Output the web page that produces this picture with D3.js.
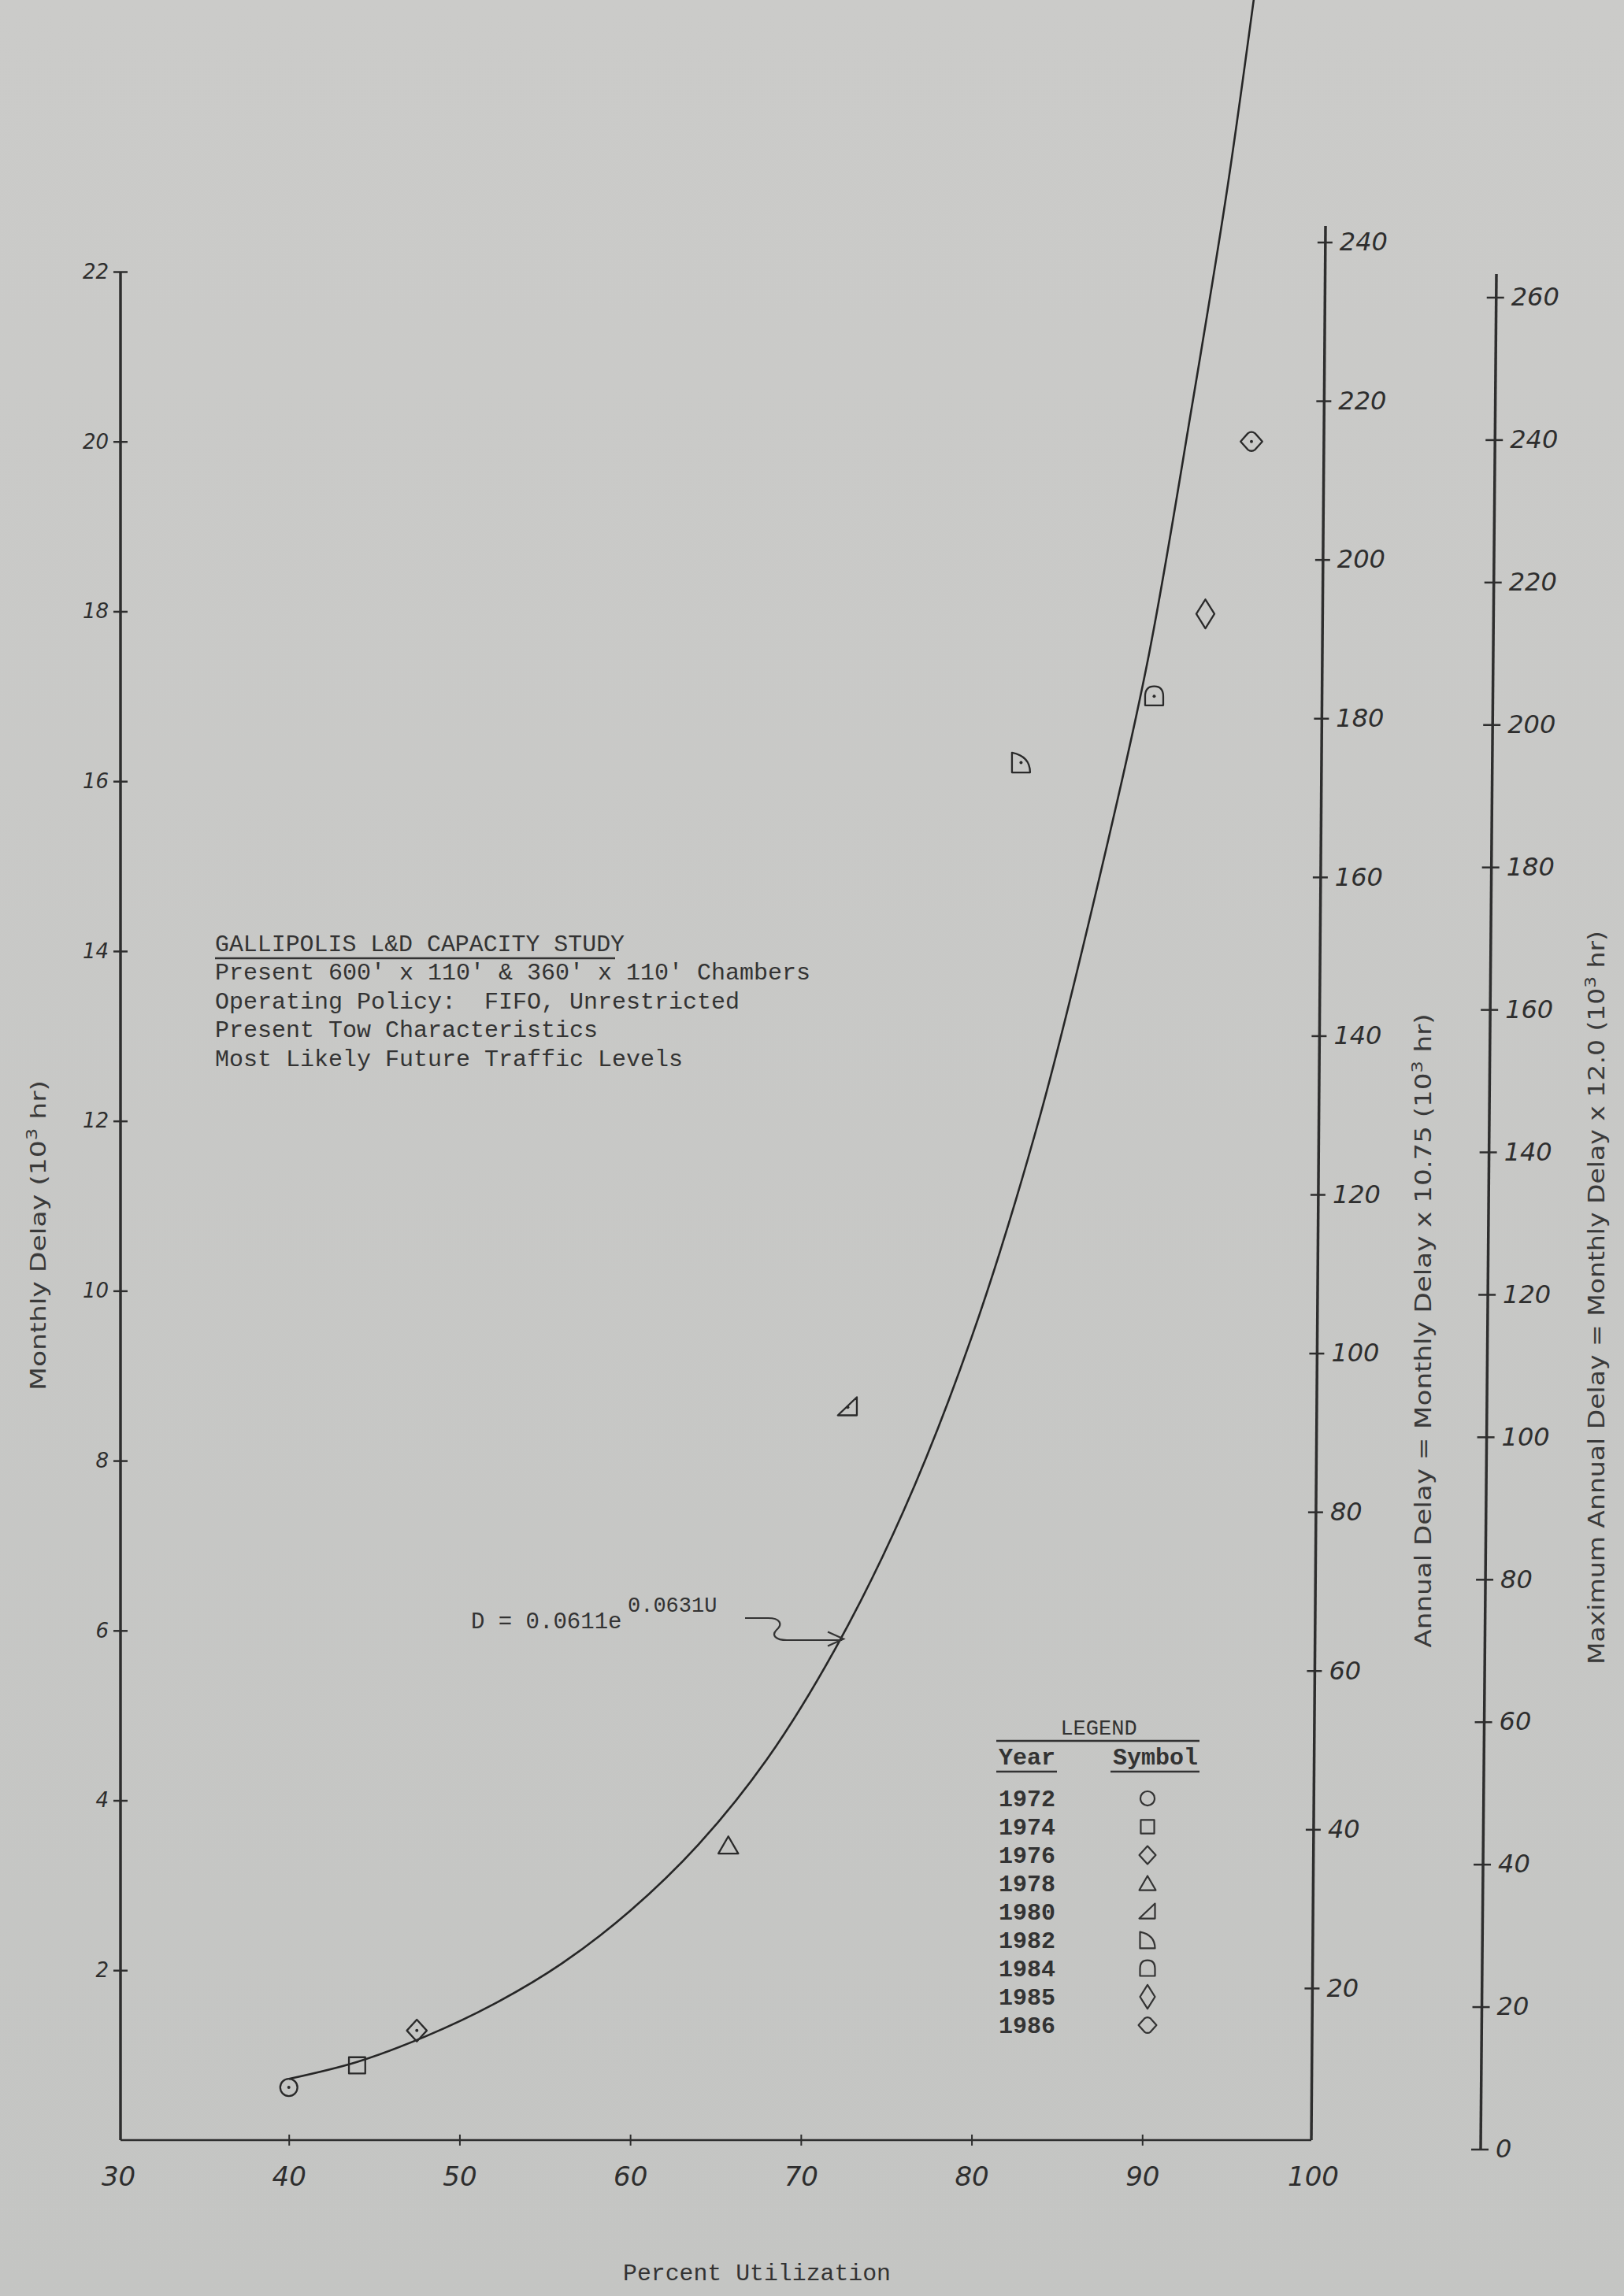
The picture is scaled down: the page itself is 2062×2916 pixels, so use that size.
<!DOCTYPE html>
<html>
<head>
<meta charset="utf-8">
<script src="https://cdn.jsdelivr.net/npm/d3@7/dist/d3.min.js"></script>
<style>
html,body{margin:0;padding:0;background:#c7c8c6;}
svg{display:block;}
text{white-space:pre;}
</style>
</head>
<body>
<svg id="chart" width="2062" height="2916"></svg>
<script>
// ---------------- DATA ----------------
const years = ["1972","1974","1976","1978","1980","1982","1984","1985","1986"];
const symbolNames = ["circle","square","diamond","triangle","rtri","quarter","arch","tallDiamond","lens"];
const utilization = [40.0, 44.0, 47.5, 65.75, 72.75, 82.9, 90.7, 93.7, 96.4];
const monthlyDelay = [0.62, 0.88, 1.29, 3.47, 8.63, 16.22, 17.0, 17.97, 20.0];
const dotted = [true, false, true, false, true, true, true, false, true];

// fitted curve (U %, D 10^3 hr)
const curveU = [40, 44, 48, 52, 56, 60, 64, 68, 72, 76, 80, 84, 88, 90.4, 92.9, 95, 96.6, 97];
const curveD = [0.72, 0.92, 1.22, 1.60, 2.08, 2.70, 3.48, 4.48, 5.78, 7.40, 9.45, 12.05, 15.3, 17.5, 20.4, 23.0, 25.3, 25.9];

const xTicks = [30, 40, 50, 60, 70, 80, 90, 100];
const monthlyTicks = [2, 4, 6, 8, 10, 12, 14, 16, 18, 20, 22];
const annualTicks = [20, 40, 60, 80, 100, 120, 140, 160, 180, 200, 220, 240];
const maxAnnualTicks = [0, 20, 40, 60, 80, 100, 120, 140, 160, 180, 200, 220, 240, 260];

const infoLines = [
  "Present 600' x 110' & 360' x 110' Chambers",
  "Operating Policy:  FIFO, Unrestricted",
  "Present Tow Characteristics",
  "Most Likely Future Traffic Levels"
];
const infoTitle = "GALLIPOLIS L&D CAPACITY STUDY";

// ---------------- SETUP ----------------
const svg = d3.select("#chart");
const ink = "#2e2e2e";
const mono = "'Liberation Mono','DejaVu Sans Mono',monospace";
const hand = "'DejaVu Sans',sans-serif";
const narrow = "'Liberation Sans Narrow','DejaVu Sans Condensed','Liberation Sans',sans-serif";

const defs = svg.append("defs");
const grad = defs.append("linearGradient").attr("id","bg").attr("x1",0).attr("x2",0).attr("y1",0).attr("y2",1);
grad.append("stop").attr("offset","0%").attr("stop-color","#cbcbc9");
grad.append("stop").attr("offset","100%").attr("stop-color","#c4c5c3");
svg.append("rect").attr("width",2062).attr("height",2916).attr("fill","url(#bg)");

const x = d3.scaleLinear().domain([30, 100]).range([150, 1667]);
const y = d3.scaleLinear().domain([0, 22]).range([2718, 345]);
const yAnnual = d3.scaleLinear().domain([0, 240]).range([2727, 308]);
const yMax = d3.scaleLinear().domain([0, 260]).range([2730, 378]);

const leftX = 153;
const annualX = 1665;   // hand-drawn axis leans slightly to the right going up
const annualLean = d3.scaleLinear().domain([2718, 287]).range([0, 18]);
const maxX = 1880;
const maxLean = d3.scaleLinear().domain([2730, 348]).range([0, 20]);

function styleAxis(g, size) {
  g.select(".domain").remove();
  g.selectAll(".tick text")
    .attr("font-family", hand).attr("font-style","italic")
    .attr("font-size", size).attr("fill", ink);
}

// ---------------- LEFT AXIS (monthly) ----------------
const gLeft = svg.append("g").attr("transform", `translate(${leftX},0)`)
  .call(d3.axisLeft(y).tickValues(monthlyTicks).tickSize(9).tickSizeOuter(0).tickPadding(6).tickFormat(d3.format("d")));
styleAxis(gLeft, 26);
gLeft.selectAll(".tick line").attr("x1",-9).attr("x2",9).attr("stroke",ink).attr("stroke-width",2.5);
gLeft.append("line").attr("x1",0).attr("x2",0).attr("y1",y(0)).attr("y2",y(22))
  .attr("stroke",ink).attr("stroke-width",3.5);

// ---------------- BOTTOM AXIS ----------------
const gBot = svg.append("g").attr("transform", `translate(0,${y(0)})`)
  .call(d3.axisBottom(x).tickValues(xTicks).tickSize(8).tickSizeOuter(0).tickPadding(26).tickFormat(d3.format("d")));
styleAxis(gBot, 34);
gBot.selectAll(".tick line").attr("y1",-7).attr("y2",7).attr("stroke",ink).attr("stroke-width",2)
  .attr("display", d => (d === 30 || d === 100) ? "none" : null);
gBot.append("line").attr("x1",leftX).attr("x2",annualX).attr("y1",0).attr("y2",0)
  .attr("stroke",ink).attr("stroke-width",2.5);

// ---------------- ANNUAL AXIS ----------------
const gAnn = svg.append("g").attr("transform", `translate(${annualX},0)`)
  .call(d3.axisRight(yAnnual).tickValues(annualTicks).tickSize(9).tickSizeOuter(0).tickPadding(9).tickFormat(d3.format("d")));
styleAxis(gAnn, 32);
gAnn.selectAll(".tick").attr("transform", d => `translate(${annualLean(yAnnual(d))},${yAnnual(d)})`);
gAnn.selectAll(".tick line").attr("x1",-10).attr("x2",9).attr("stroke",ink).attr("stroke-width",2.5);
gAnn.append("line").attr("x1",0).attr("x2",annualLean(287)).attr("y1",y(0)).attr("y2",287)
  .attr("stroke",ink).attr("stroke-width",3.5);

// ---------------- MAX ANNUAL AXIS ----------------
const gMax = svg.append("g").attr("transform", `translate(${maxX},0)`)
  .call(d3.axisRight(yMax).tickValues(maxAnnualTicks).tickSize(9).tickSizeOuter(0).tickPadding(10).tickFormat(d3.format("d")));
styleAxis(gMax, 32);
gMax.selectAll(".tick").attr("transform", d => `translate(${maxLean(yMax(d))},${yMax(d)})`);
gMax.selectAll(".tick line").attr("x1",-12).attr("x2",10).attr("stroke",ink).attr("stroke-width",2.5);
gMax.append("line").attr("x1",0).attr("x2",maxLean(348)).attr("y1",yMax(0)).attr("y2",348)
  .attr("stroke",ink).attr("stroke-width",3.5);

// ---------------- AXIS TITLES ----------------
function rotLabel(cx, cy, len, main, tail, size) {
  const t = svg.append("text")
    .attr("transform", `translate(${cx},${cy}) rotate(-90)`)
    .attr("text-anchor","middle")
    .attr("font-family", narrow).attr("font-size", size).attr("fill", "#3a3a3a")
    .attr("textLength", len).attr("lengthAdjust","spacingAndGlyphs");
  t.append("tspan").text(main + "(10");
  t.append("tspan").attr("dy", -11).attr("font-size", size*0.7).text("3");
  t.append("tspan").attr("dy", 11).text(" " + tail);
}
rotLabel(58, 1569, 394, "Monthly Delay ", "hr)", 27);
rotLabel(1817, 1690, 805, "Annual Delay = Monthly Delay x 10.75 ", "hr)", 28);
rotLabel(2037, 1648, 932, "Maximum Annual Delay = Monthly Delay x 12.0 ", "hr)", 28);

svg.append("text").attr("x", 961).attr("y", 2896).attr("text-anchor","middle")
  .attr("font-family", mono).attr("font-size", 29).attr("fill", "#333")
  .attr("textLength", 340).attr("lengthAdjust","spacingAndGlyphs")
  .text("Percent Utilization");

// ---------------- CURVE ----------------
const curvePts = curveU.map((u, i) => [u, curveD[i]]);
svg.append("path").datum(curvePts)
  .attr("d", d3.line().x(d => x(d[0])).y(d => y(d[1])).curve(d3.curveCatmullRom.alpha(0.5)))
  .attr("fill","none").attr("stroke","#262626").attr("stroke-width",2.6);

// ---------------- SYMBOLS ----------------
function symbolPath(name, k) {
  const s = v => (v * k).toFixed(2);
  switch (name) {
    case "circle": { const r = 9.5*k; return `M${-r},0A${r},${r} 0 1,0 ${r},0A${r},${r} 0 1,0 ${-r},0Z`; }
    case "square": return `M${s(-9)},${s(-9)}H${s(9)}V${s(9)}H${s(-9)}Z`;
    case "diamond": return `M0,${s(-12)}L${s(11)},0L0,${s(12)}L${s(-11)},0Z`;
    case "triangle": return `M0,${s(-10)}L${s(11)},${s(9)}H${s(-11)}Z`;
    case "rtri": return `M${s(-11)},${s(9)}H${s(10)}V${s(-11)}Z`;
    case "quarter": return `M${s(-10)},${s(11)}V${s(-11)}Q${s(10)},${s(-7)} ${s(10)},${s(11)}Z`;
    case "arch": return `M${s(-10)},${s(10)}V${s(0)}Q${s(-10)},${s(-11)} 0,${s(-11)}Q${s(10)},${s(-11)} ${s(10)},0V${s(10)}Z`;
    case "tallDiamond": return `M0,${s(-16)}L${s(10)},0L0,${s(16)}L${s(-10)},0Z`;
    case "lens": return `M${s(-12)},0L${s(-4)},${s(-9)}Q0,${s(-12)} ${s(4)},${s(-9)}L${s(12)},0L${s(4)},${s(9)}Q0,${s(12)} ${s(-4)},${s(9)}Z`;
  }
}

const pts = years.map((yr, i) => ({year: yr, u: utilization[i], d: monthlyDelay[i], sym: symbolNames[i], dot: dotted[i]}));
const gPts = svg.append("g");
const mk = gPts.selectAll("g.pt").data(pts).join("g").attr("class","pt")
  .attr("transform", d => `translate(${x(d.u)},${y(d.d)})`);
mk.append("path").attr("d", d => symbolPath(d.sym, 1.15))
  .attr("fill","none").attr("stroke","#2a2a2a").attr("stroke-width",2.3).attr("stroke-linejoin","round");
mk.filter(d => d.dot).append("circle").attr("r",2).attr("fill","#2a2a2a");

// ---------------- INFO BLOCK ----------------
const info = svg.append("g").attr("font-family", mono).attr("font-size", 30).attr("fill", "#333");
info.append("text").attr("x", 273).attr("y", 1208).attr("textLength", 520).attr("lengthAdjust","spacingAndGlyphs").text(infoTitle);
info.append("line").attr("x1",273).attr("x2",781).attr("y1",1217).attr("y2",1217).attr("stroke","#333").attr("stroke-width",2.5);
infoLines.forEach((t, i) => {
  info.append("text").attr("x", 273).attr("y", 1244 + i*36.6).attr("xml:space","preserve").text(t);
});

// ---------------- EQUATION ANNOTATION ----------------
const eq = svg.append("g").attr("font-family", mono).attr("fill", "#333");
eq.append("text").attr("x", 598).attr("y", 2068).attr("font-size", 29).text("D = 0.0611e");
eq.append("text").attr("x", 797).attr("y", 2047).attr("font-size", 27).text("0.0631U");
const tip = [x(72.5), y(5.92)];
svg.append("path")
  .attr("d", `M946,2055H975C991,2055 994,2063 986,2070C979,2077 985,2083 999,2083H${tip[0]-2}`)
  .attr("fill","none").attr("stroke","#333").attr("stroke-width",2.2);
svg.append("path")
  .attr("d", `M${tip[0]-20},${tip[1]-7}L${tip[0]},${tip[1]+2}L${tip[0]-20},${tip[1]+11}`)
  .attr("fill","none").attr("stroke","#333").attr("stroke-width",2.2);

// ---------------- LEGEND ----------------
const lg = svg.append("g").attr("font-family", mono).attr("fill", "#333").attr("font-weight", "bold");
lg.append("text").attr("x", 1395).attr("y", 2203).attr("text-anchor","middle").attr("font-size", 27).attr("font-weight","normal").text("LEGEND");
lg.append("line").attr("x1",1265).attr("x2",1523).attr("y1",2211).attr("y2",2211).attr("stroke","#333").attr("stroke-width",2.5);
lg.append("text").attr("x", 1268).attr("y", 2241).attr("font-size", 30).text("Year");
lg.append("text").attr("x", 1413).attr("y", 2241).attr("font-size", 30).text("Symbol");
lg.append("line").attr("x1",1265).attr("x2",1342).attr("y1",2250).attr("y2",2250).attr("stroke","#333").attr("stroke-width",2.5);
lg.append("line").attr("x1",1410).attr("x2",1523).attr("y1",2250).attr("y2",2250).attr("stroke","#333").attr("stroke-width",2.5);
const rows = lg.selectAll("g.row").data(pts).join("g").attr("class","row")
  .attr("transform", (d, i) => `translate(0,${2284 + i*36})`);
rows.append("text").attr("x", 1268).attr("y", 10).attr("font-size", 30).text(d => d.year);
rows.append("path").attr("transform","translate(1457,0)")
  .attr("d", d => symbolPath(d.sym, 0.95))
  .attr("fill","none").attr("stroke","#333").attr("stroke-width",2.2).attr("stroke-linejoin","round");
</script>
</body>
</html>
